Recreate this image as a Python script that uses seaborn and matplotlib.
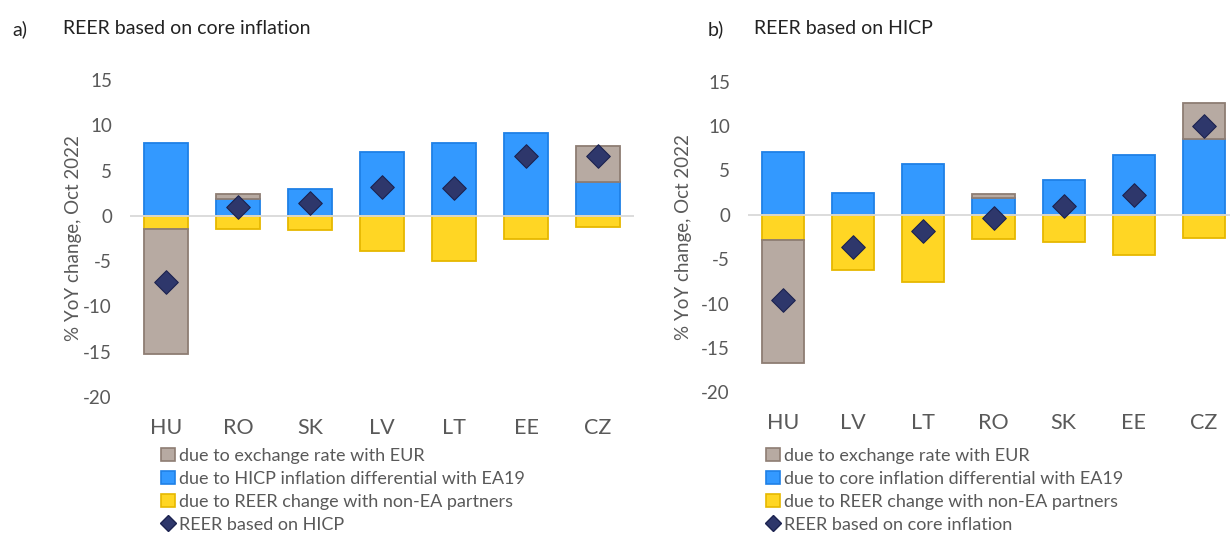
import numpy as np
import seaborn as sns
import matplotlib.pyplot as plt
from matplotlib.lines import Line2D
from matplotlib.patches import Patch

# panel a) REER based on core inflation
countries_a = ["HU", "RO", "SK", "LV", "LT", "EE", "CZ"]
fx_a = [-13.8, 0.5, 0.0, 0.0, 0.0, 0.0, 4.05]
infl_a = [8.0, 1.9, 2.95, 7.1, 8.0, 9.2, 3.7]
nonea_a = [-1.5, -1.45, -1.6, -3.9, -5.0, -2.55, -1.2]
reer_a = [-7.3, 1.0, 1.4, 3.2, 3.1, 6.6, 6.6]

# panel b) REER based on HICP
countries_b = ["HU", "LV", "LT", "RO", "SK", "EE", "CZ"]
fx_b = [-13.8, 0.0, 0.0, 0.49, 0.0, 0.0, 4.03]
infl_b = [7.1, 2.48, 5.75, 1.88, 3.9, 6.73, 8.53]
nonea_b = [-2.86, -6.17, -7.56, -2.74, -3.05, -4.55, -2.63]
reer_b = [-9.55, -3.65, -1.77, -0.34, 0.94, 2.26, 10.0]

labels_a = ["due to exchange rate with EUR",
            "due to HICP inflation differential with EA19",
            "due to REER change with non-EA partners",
            "REER based on HICP"]
labels_b = ["due to exchange rate with EUR",
            "due to core inflation differential with EA19",
            "due to REER change with non-EA partners",
            "REER based on core inflation"]

BROWN, BROWN_E = "#B7AAA2", "#8E7D73"
BLUE, BLUE_E = "#3399FF", "#1F80E6"
YELLOW, YELLOW_E = "#FFD624", "#E6B800"
NAVY, NAVY_E = "#2E376B", "#1C2350"
GREY = "#595959"

sns.set_theme(style="white")
plt.rcParams["font.family"] = ["Lato", "DejaVu Sans"]
plt.rcParams["text.color"] = GREY
plt.rcParams["axes.unicode_minus"] = False


def draw_panel(ax, countries, fx, infl, nonea, reer):
    n = len(countries)
    pos = np.zeros(n)
    neg = np.zeros(n)
    for vals, fc, ec in [(infl, BLUE, BLUE_E), (nonea, YELLOW, YELLOW_E), (fx, BROWN, BROWN_E)]:
        v = np.array(vals, dtype=float)
        bottom = np.where(v >= 0, pos, neg)
        sns.barplot(x=countries, y=v, bottom=bottom, color=fc, edgecolor=ec,
                    linewidth=1.3, width=0.6, saturation=1, errorbar=None, ax=ax, zorder=2)
        pos += np.clip(v, 0, None)
        neg += np.clip(v, None, 0)
    # empty segments should not leave an outline
    for p in ax.patches:
        if p.get_height() == 0:
            p.set_visible(False)
    ax.axhline(0, color="#D9D9D9", lw=1.3, zorder=2.5)
    sns.stripplot(x=countries, y=reer, marker="D", size=12, jitter=False,
                  color=NAVY, edgecolor=NAVY_E, linewidth=0.8, ax=ax, zorder=3)
    ax.set_ylim(-20, 15)
    ax.set_yticks(range(-20, 16, 5))
    ax.set_xlim(-0.5, n - 0.5)
    for s in ax.spines.values():
        s.set_visible(False)
    ax.tick_params(length=0, colors=GREY)
    ax.tick_params(axis="x", labelsize=15.5, pad=15)
    ax.tick_params(axis="y", labelsize=13.5, pad=13)
    ax.set_ylabel("% YoY change, Oct 2022", fontsize=13.5, color=GREY)
    ax.set_xlabel("")


fig = plt.figure(figsize=(12.3, 5.34), dpi=100)
ax1 = fig.add_axes([130 / 1230, 0.2566, 504 / 1230, 0.5936])
ax2 = fig.add_axes([748 / 1230, 0.2654, 491 / 1230, 0.5816])

draw_panel(ax1, countries_a, fx_a, infl_a, nonea_a, reer_a)
draw_panel(ax2, countries_b, fx_b, infl_b, nonea_b, reer_b)
ax1.yaxis.set_label_coords((82 - 130) / 504, 0.5)
ax2.yaxis.set_label_coords((692 - 748) / 491, 0.5)

ty = 1 - 29 / 534
fig.text(12 / 1230, ty, "a)", fontsize=14, color="#222222", va="center")
fig.text(63 / 1230, ty, "REER based on core inflation", fontsize=14, color="#222222", va="center")
fig.text(708 / 1230, ty, "b)", fontsize=14, color="#222222", va="center")
fig.text(754 / 1230, ty, "REER based on HICP", fontsize=14, color="#222222", va="center")


def handles():
    return [Patch(facecolor=BROWN, edgecolor=BROWN_E, lw=1.2),
            Patch(facecolor=BLUE, edgecolor=BLUE_E, lw=1.2),
            Patch(facecolor=YELLOW, edgecolor=YELLOW_E, lw=1.2),
            Line2D([], [], marker="D", ls="", color=NAVY, markeredgecolor=NAVY_E, markersize=8)]


for lx, labs in [(161, labels_a), (766, labels_b)]:
    fig.legend(handles(), labs, loc="upper left", bbox_to_anchor=(lx / 1230, 1 - 448 / 534),
               frameon=False, fontsize=13, handlelength=0.75, handleheight=0.75,
               handletextpad=0.25, labelspacing=0.38, borderaxespad=0, borderpad=0,
               labelcolor=GREY)

fig.savefig("out.png", dpi=100)
